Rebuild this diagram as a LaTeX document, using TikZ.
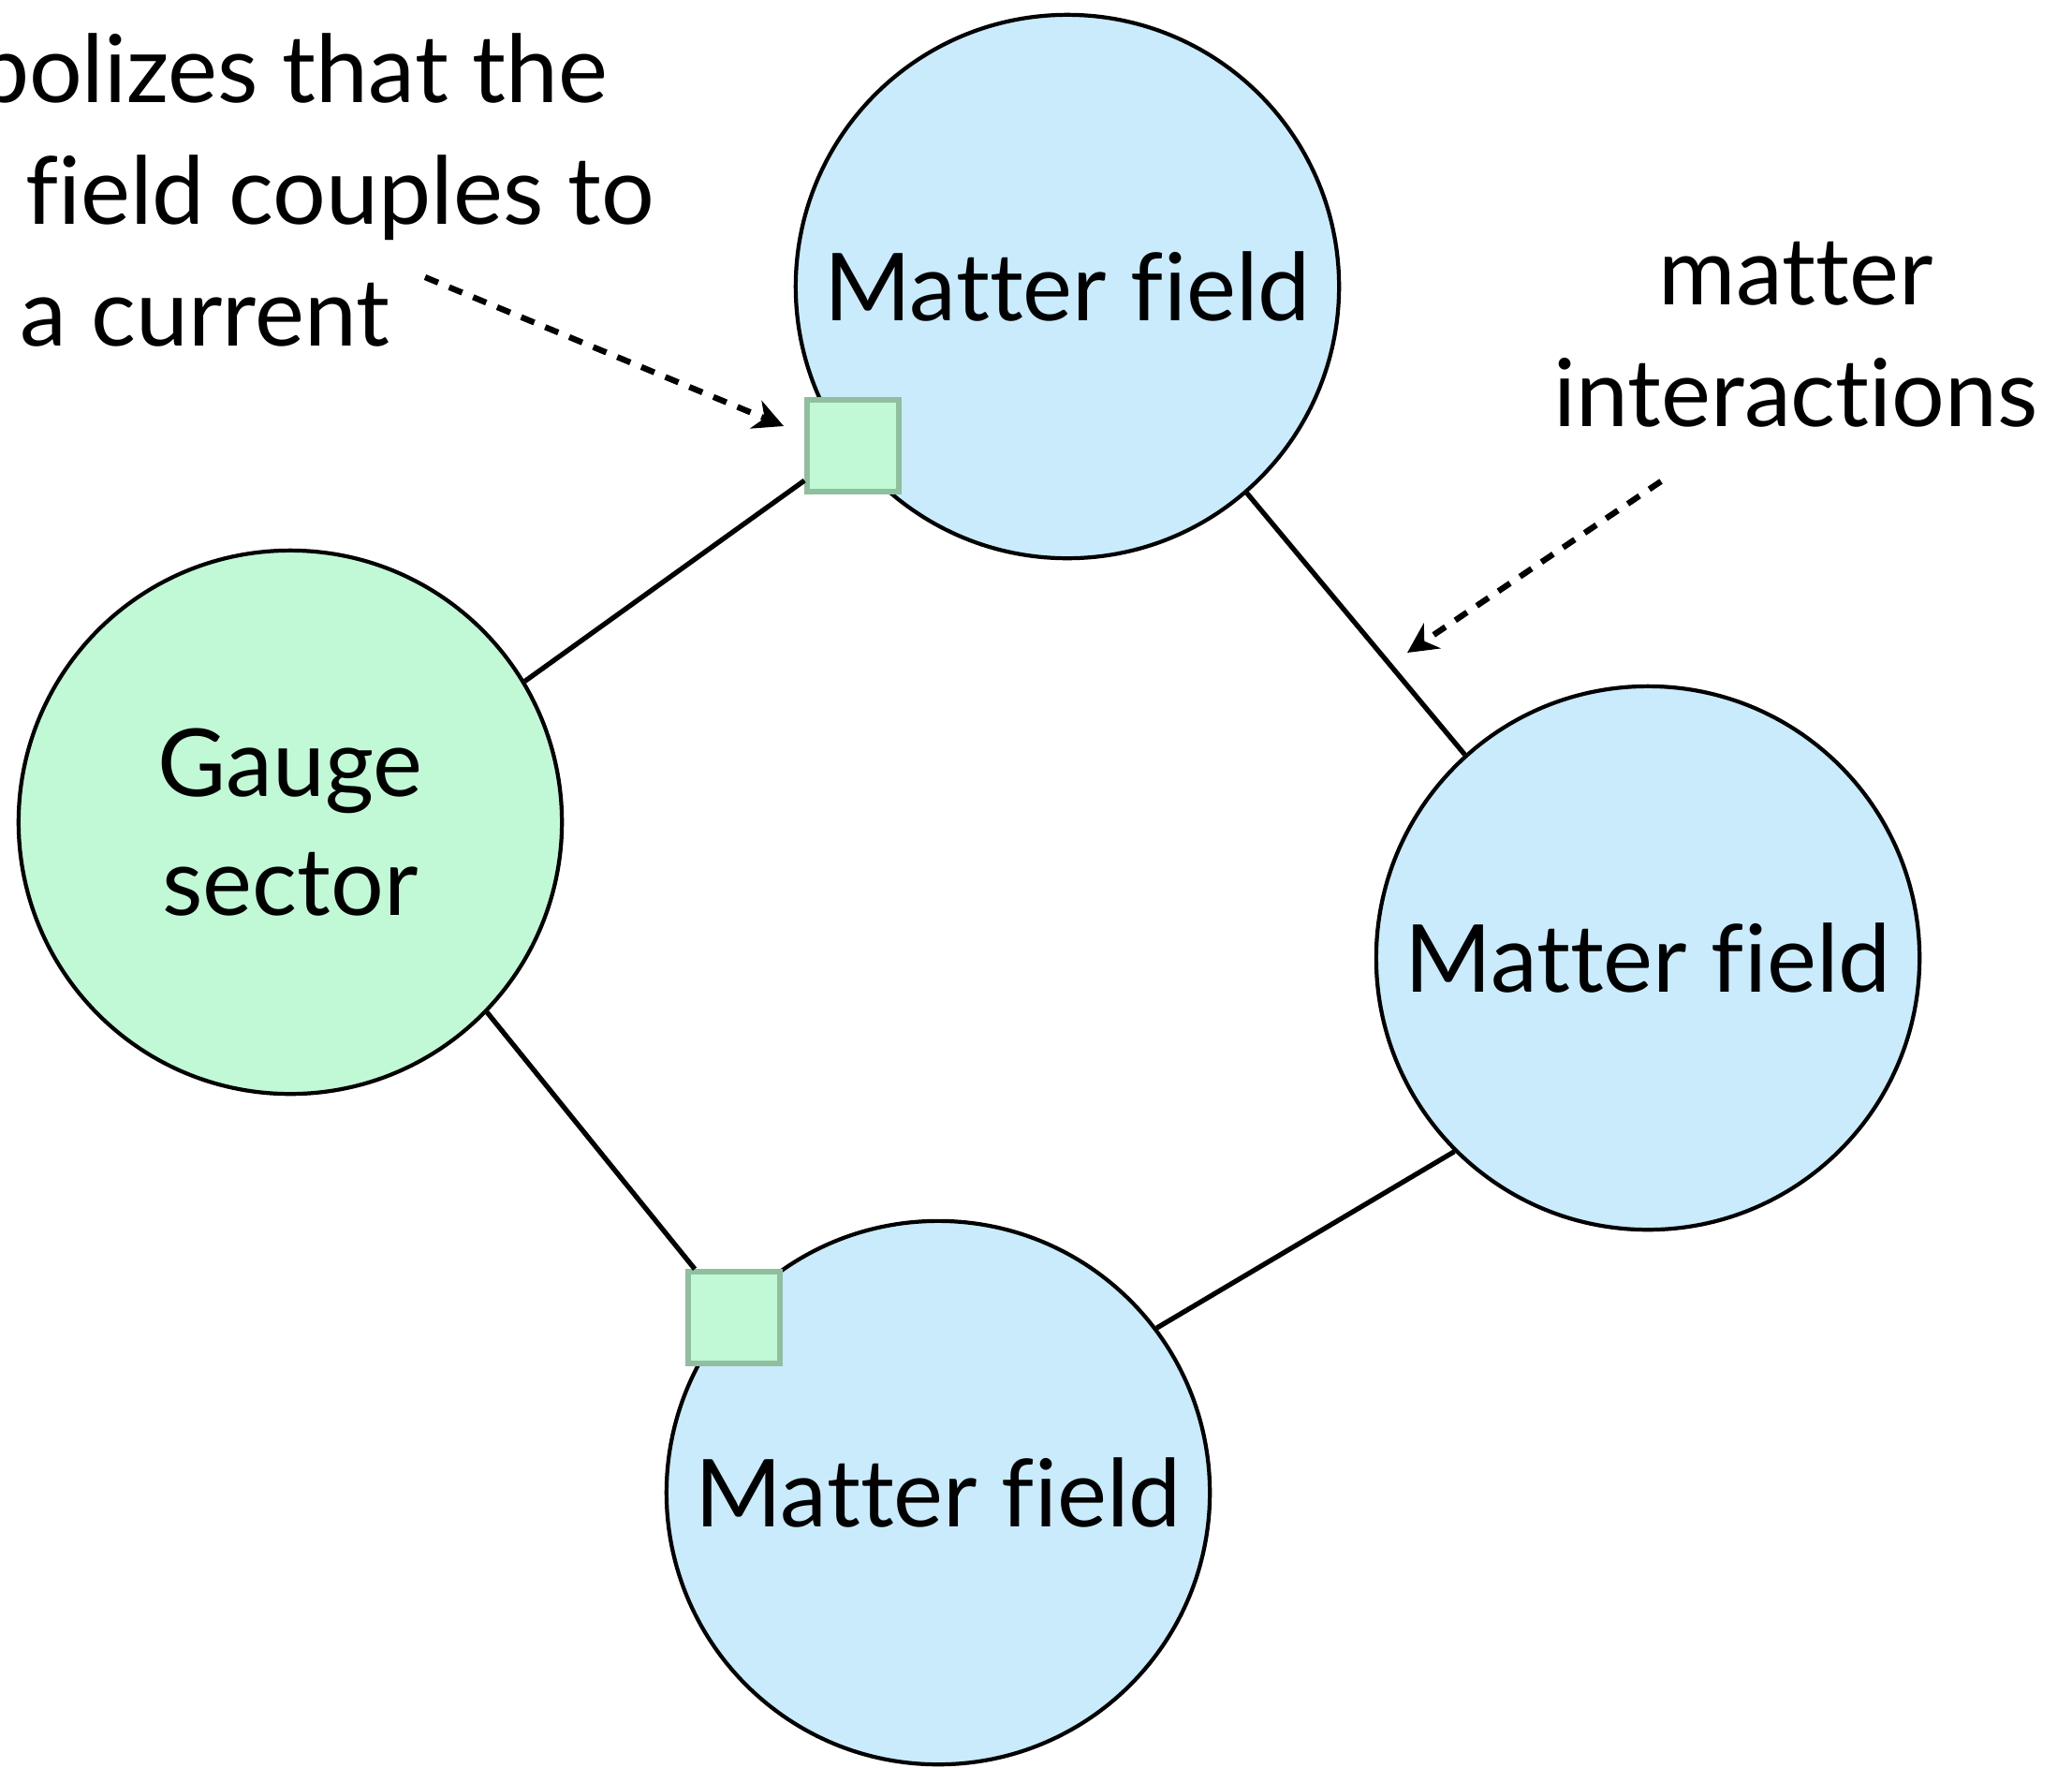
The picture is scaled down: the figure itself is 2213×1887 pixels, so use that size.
\documentclass[tikz,border=0pt]{standalone}
\usepackage{fontspec}
\setmainfont{Lato}[Ligatures={NoCommon}]
\usetikzlibrary{arrows.meta}
\definecolor{matterblue}{HTML}{C9EBFC}
\definecolor{gaugegreen}{HTML}{C1F9D6}
\definecolor{vertexedge}{HTML}{8FBF9F}
\tikzset{
  sector/.style={circle, draw=black, line width=1.2pt, minimum size=5.8cm,
    inner sep=0pt, align=center, font=\fontsize{28.5}{36}\selectfont},
  matter/.style={sector, fill=matterblue},
  gauge/.style={sector, fill=gaugegreen},
  link/.style={line width=1.5pt},
  vertex/.style={rectangle, draw=vertexedge, fill=gaugegreen, line width=1.6pt,
    minimum size=0.98cm, inner sep=0pt},
  pointer/.style={line width=1.8pt, dash pattern=on 4.3pt off 3.6pt,
    -{Stealth[length=0.32cm, width=0.32cm, inset=0.1cm]}},
  note/.style={align=center, inner sep=0pt, font=\fontsize{28.5}{37}\selectfont}
}
\begin{document}
\begin{tikzpicture}[x=0.01cm, y=-0.01cm]
  \useasboundingbox (0,0) rectangle (2213,1887);
  \clip (0,0) rectangle (2213,1887);

  % field sectors
  \node[gauge]  (gauge)   at (310,878)   {Gauge\\sector};
  \node[matter] (mtop)    at (1140,306)  {Matter field};
  \node[matter] (mright)  at (1760,1023) {Matter field};
  \node[matter] (mbottom) at (1002,1594) {Matter field};

  % current vertices where the gauge sector attaches
  \node[vertex] (jtop)    at (911,476)  {};
  \node[vertex] (jbottom) at (784,1407) {};

  % couplings between sectors
  \draw[link] (gauge.31) -- (jtop);
  \draw[link] (gauge.-44.6) -- (jbottom);
  \draw[link] (mtop.-49) -- (mright.132.5);
  \draw[link] (mright.-135) -- (mbottom.37);

  % annotations
  \node[note] (coupling) at (219,203) {Symbolizes that the\\gauge field couples to\\a current};
  \node[note] (interact) at (1918,357) {matter\\interactions};

  \coordinate (cstart) at (454,296);
  \coordinate (cend)   at (837,455);
  \draw[pointer] (cstart) -- (cend);

  \coordinate (istart) at (1774,514);
  \coordinate (iend)   at (1503,697);
  \draw[pointer] (istart) -- (iend);
\end{tikzpicture}
\end{document}
